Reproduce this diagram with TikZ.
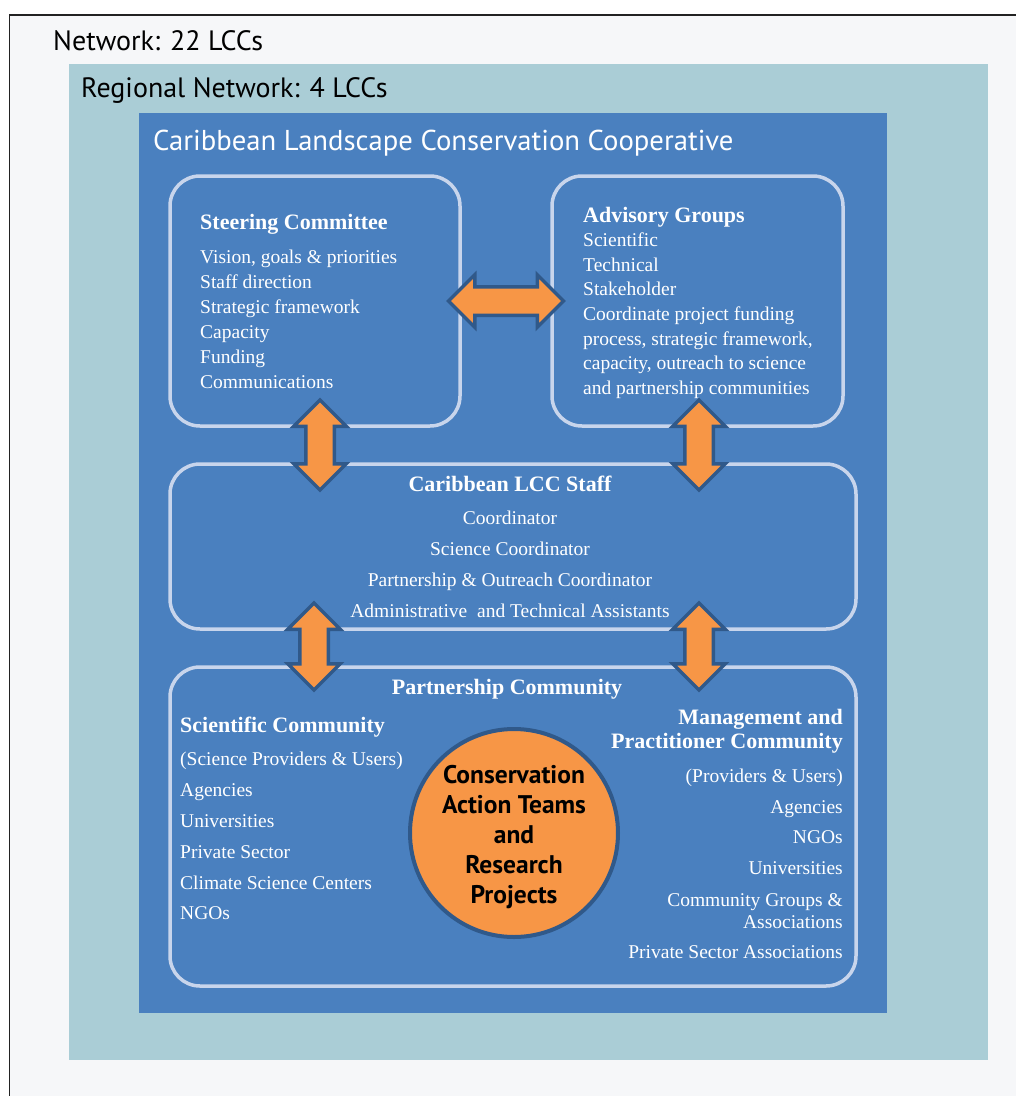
\documentclass[tikz,border=0pt]{standalone}
\usepackage{fontspec}
\setmainfont{Liberation Serif}
\newfontfamily\hdfont{PT Sans}
\usetikzlibrary{shapes.arrows,calc}
\definecolor{bgc}{HTML}{F6F7F9}
\definecolor{tealc}{HTML}{AACDD6}
\definecolor{bluec}{HTML}{4A80BF}
\definecolor{boxline}{HTML}{C8D5EC}
\definecolor{orangec}{HTML}{F79646}
\definecolor{arrline}{HTML}{30598A}
\definecolor{framec}{HTML}{222222}
\begin{document}
\begin{tikzpicture}[x=1pt,y=-1pt,
  box/.style={draw=boxline, line width=3.5pt, rounded corners=30pt, inner sep=0pt},
  txt/.style={text=white, font=\fontsize{19.5}{24}\selectfont, inner sep=0pt},
  hd/.style={text=white, font=\fontsize{22}{26}\selectfont\bfseries, inner sep=0pt},
  ttl/.style={font=\hdfont\fontsize{28}{32}\selectfont, inner sep=0pt},
  dbl/.style={double arrow, draw=arrline, fill=orangec, line width=3.5pt,
    double arrow head extend=12pt, inner xsep=0pt, inner ysep=12.5pt,
    minimum width=0pt, double arrow tip angle=90}]
\useasboundingbox (0,0) rectangle (1016,1096);
% backgrounds
\fill[white] (0,0) rectangle (1016,1096);
\fill[bgc] (9.5,15) rectangle (1016,1096);
\draw[framec, line width=1.5pt] (9.5,1096) -- (9.5,15) -- (1016,15);
\fill[tealc] (69,64) rectangle (988,1060);
\fill[bluec] (139,113) rectangle (887,1013);
% titles
\node[ttl, anchor=base west, text=black] (net) at (53,50) {Network: 22 LCCs};
\node[ttl, anchor=base west, text=black] (reg) at (81,97) {Regional Network: 4 LCCs};
\node[ttl, anchor=base west, text=white, font=\hdfont\fontsize{28.7}{32}\selectfont] (clcc) at (153,150) {Caribbean Landscape Conservation Cooperative};
% boxes
\node[box, minimum width=290pt, minimum height=250pt] (steer) at (315,301) {};
\node[box, minimum width=291pt, minimum height=250pt] (adv) at (697.5,301) {};
\node[box, minimum width=686pt, minimum height=165pt] (staff) at (513,546.5) {};
\node[box, minimum width=686pt, minimum height=319pt] (part) at (513,826.5) {};
% steering committee text
\node[hd, anchor=base west] (s0) at (200,229) {Steering Committee};
\node[txt, anchor=base west] (s1) at (200,263) {Vision, goals \& priorities};
\node[txt, anchor=base west] (s2) at (200,288) {Staff direction};
\node[txt, anchor=base west] (s3) at (200,313) {Strategic framework};
\node[txt, anchor=base west] (s4) at (200,338) {Capacity};
\node[txt, anchor=base west] (s5) at (200,363) {Funding};
\node[txt, anchor=base west] (s6) at (200,388) {Communications};
% advisory
\node[hd, anchor=base west] (g0) at (583,222) {Advisory Groups};
\node[txt, anchor=base west] (g1) at (583,246) {Scientific};
\node[txt, anchor=base west] (g2) at (583,271) {Technical};
\node[txt, anchor=base west] (g3) at (583,295.5) {Stakeholder};
\node[txt, anchor=base west] (g4) at (583,320) {Coordinate project funding};
\node[txt, anchor=base west] (g5) at (583,345) {process, strategic framework,};
\node[txt, anchor=base west] (g6) at (583,369.5) {capacity, outreach to science};
\node[txt, anchor=base west] (g7) at (583,394) {and partnership communities};
% staff
\node[hd, anchor=base] (t0) at (510,491) {Caribbean LCC Staff};
\node[txt, anchor=base] (t1) at (510,524) {Coordinator};
\node[txt, anchor=base] (t2) at (510,555) {Science Coordinator};
\node[txt, anchor=base] (t3) at (510,586) {Partnership \& Outreach Coordinator};
\node[txt, anchor=base] (t4) at (510,617) {Administrative\ \ and Technical Assistants};
% partnership
\node[hd, anchor=base] (p0) at (507,694) {Partnership Community};
\node[hd, anchor=base west] (l0) at (180,732) {Scientific Community};
\node[txt, anchor=base west] (l1) at (180,765) {(Science Providers \& Users)};
\node[txt, anchor=base west] (l2) at (180,796) {Agencies};
\node[txt, anchor=base west] (l3) at (180,827) {Universities};
\node[txt, anchor=base west] (l4) at (180,858) {Private Sector};
\node[txt, anchor=base west] (l5) at (180,889) {Climate Science Centers};
\node[txt, anchor=base west] (l6) at (180,919) {NGOs};
\node[hd, anchor=base east] (r0) at (843,724) {Management and};
\node[hd, anchor=base east] (r1) at (843,748) {Practitioner Community};
\node[txt, anchor=base east] (r2) at (843,782) {(Providers \& Users)};
\node[txt, anchor=base east] (r3) at (843,813) {Agencies};
\node[txt, anchor=base east] (r4) at (843,843) {NGOs};
\node[txt, anchor=base east] (r5) at (843,874) {Universities};
\node[txt, anchor=base east] (r6) at (843,906) {Community Groups \&};
\node[txt, anchor=base east] (r7) at (843,928) {Associations};
\node[txt, anchor=base east] (r8) at (843,958) {Private Sector Associations};
% circle
\node[circle, draw=arrline, line width=4pt, fill=orangec, minimum size=208pt, inner sep=0pt] (cat) at (514,833) {};
\node[inner sep=0pt, align=center, font=\hdfont\fontsize{25.5}{30}\selectfont\bfseries] (catt)
  at ($(cat.center)+(0,4.5)$) {Conservation\\Action Teams\\and\\Research\\Projects};
% arrows
\node[dbl, minimum height=115pt] (a1) at ($(steer.east)!0.5!(adv.west)$) {};
\node[dbl, minimum height=90pt, rotate=90] (a2) at (320,445) {};
\node[dbl, minimum height=90pt, rotate=90] (a3) at (699,445) {};
\node[dbl, minimum height=87pt, rotate=90] (a4) at (314,646.5) {};
\node[dbl, minimum height=87pt, rotate=90] (a5) at (699,646.5) {};
\end{tikzpicture}
\end{document}
